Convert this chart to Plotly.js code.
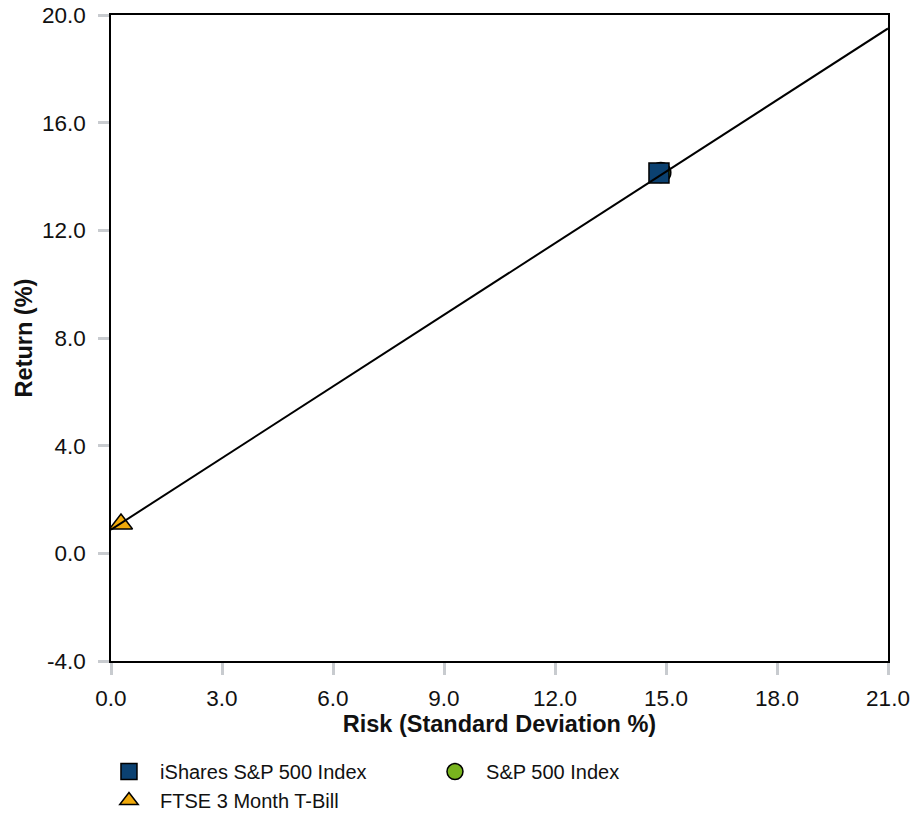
<!DOCTYPE html>
<html>
<head>
<meta charset="utf-8">
<script src="https://cdn.plot.ly/plotly-3.0.1.min.js"></script>
<style>html,body{margin:0;padding:0;background:#fff;}#chart{width:912px;height:838px;}</style>
</head>
<body>
<div id="chart"></div>
<script>
// Data
const seriesNames = ["iShares S&P 500 Index", "S&P 500 Index", "FTSE 3 Month T-Bill"];
const riskValues = [14.81, 14.86, 0.27];     // standard deviation %
const returnValues = [14.13, 14.15, 1.09];   // return %
const lineRisk = [0, 21];
const lineReturn = [0.88, 19.5];
const xTickVals = [0, 3, 6, 9, 12, 15, 18, 21];
const xTickText = ["0.0", "3.0", "6.0", "9.0", "12.0", "15.0", "18.0", "21.0"];
const yTickVals = [-4, 0, 4, 8, 12, 16, 20];
const yTickText = ["-4.0", "0.0", "4.0", "8.0", "12.0", "16.0", "20.0"];

const symbols = ["square", "circle", "triangle-up"];
const colors = ["#0b4171", "#78b41e", "#f0a90a"];
const ranks = [1, 2, 3];
const drawOrder = [1, 0, 2];

const font = "Liberation Sans, Arial, sans-serif";
const pad = "\u00a0\u00a0";
const traces = drawOrder.map(i => ({
  type: "scatter",
  mode: "markers",
  name: pad + seriesNames[i],
  x: [riskValues[i]],
  y: [returnValues[i]],
  legendrank: ranks[i],
  marker: {symbol: symbols[i], color: colors[i], size: 20, line: {color: "#000", width: 1.5}},
  hoverinfo: "x+y+name"
}));
traces.push({
  type: "scatter", mode: "lines", x: lineRisk, y: lineReturn,
  line: {color: "#000", width: 2}, showlegend: false, hoverinfo: "skip"
});

const layout = {
  width: 912, height: 838,
  margin: {l: 111, r: 24, t: 15, b: 177},
  paper_bgcolor: "#fff", plot_bgcolor: "#fff",
  font: {family: font, size: 20, color: "#111"},
  showlegend: true,
  xaxis: {
    range: [0, 21], tickvals: xTickVals, ticktext: xTickText,
    showgrid: false, zeroline: false,
    showline: true, linecolor: "#000", linewidth: 1.5, mirror: true,
    ticks: "outside", ticklen: 12, tickwidth: 3, tickcolor: "#c8cbcf",
    ticklabelstandoff: 4,
    tickfont: {family: font, size: 22.5, color: "#111"},
    title: {text: "<b>Risk (Standard Deviation %)</b>", font: {family: font, size: 23.5, color: "#111"}, standoff: 0}
  },
  yaxis: {
    range: [-4, 20], tickvals: yTickVals, ticktext: yTickText,
    showgrid: false, zeroline: false,
    showline: true, linecolor: "#000", linewidth: 1.5, mirror: true,
    ticks: "outside", ticklen: 11, tickwidth: 3, tickcolor: "#c8cbcf",
    ticklabelstandoff: 8,
    tickfont: {family: font, size: 22.5, color: "#111"},
    title: {text: "<b>Return (%)</b>", font: {family: font, size: 23.5, color: "#111"}, standoff: 3}
  },
  legend: {
    orientation: "h", x: -0.0026, xanchor: "left", y: -0.1409, yanchor: "top",
    font: {family: font, size: 20, color: "#111"},
    entrywidth: 281, entrywidthmode: "pixels",
    bgcolor: "rgba(0,0,0,0)", traceorder: "normal"
  }
};

Plotly.newPlot("chart", traces, layout, {displayModeBar: false, responsive: false});
</script>
</body>
</html>
